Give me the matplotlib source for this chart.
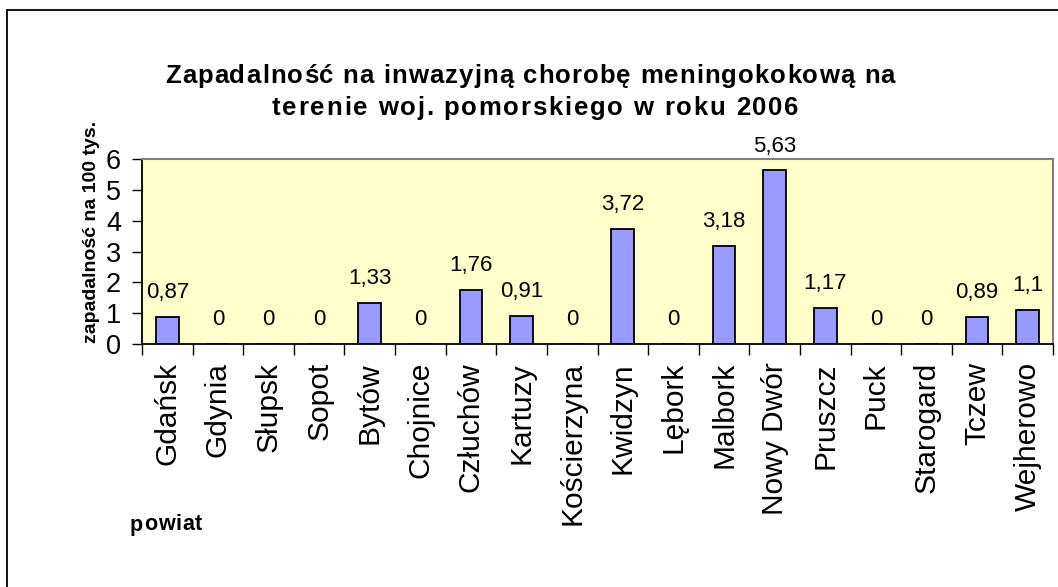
import matplotlib
matplotlib.use("Agg")
import matplotlib.pyplot as plt
import matplotlib.patches as patches
import numpy as np

plt.rcParams["font.family"] = ["Liberation Sans", "DejaVu Sans"]

powiaty = ["Gdańsk", "Gdynia", "Słupsk", "Sopot", "Bytów", "Chojnice", "Człuchów",
           "Kartuzy", "Kościerzyna", "Kwidzyn", "Lębork", "Malbork", "Nowy Dwór",
           "Pruszcz", "Puck", "Starogard", "Tczew", "Wejherowo"]
zapadalnosc = [0.87, 0, 0, 0, 1.33, 0, 1.76, 0.91, 0, 3.72, 0, 3.18, 5.63,
               1.17, 0, 0, 0.89, 1.1]
yticks = [0, 1, 2, 3, 4, 5, 6]

title1 = "Zapadalność na inwazyjną chorobę meningokokową na"
title2 = "terenie woj. pomorskiego w roku 2006"

W, H = 1058, 587
fig = plt.figure(figsize=(W / 100, H / 100), dpi=100)
renderer = fig.canvas.get_renderer()


def text_w(s, **kw):
    t = fig.text(0, 0, s, **kw)
    w = t.get_window_extent(renderer).width
    t.remove()
    return w


# excel-like letter spaced text, laid out char by char in pixels
def spaced_text(s, xc, yc, width, **kw):
    base = text_w("||", **kw)
    ws = [text_w("|" + c + "|", **kw) - base for c in s]
    gap = (width - sum(ws)) / (len(s) - 1)
    x = xc - width / 2
    for c, w in zip(s, ws):
        fig.text(x / W, 1 - yc / H, c, ha="left", va="center", **kw)
        x += w + gap


ax = fig.add_axes([142 / W, 1 - 344 / H, (1053 - 142) / W, (344 - 159) / H])
ax.set_facecolor("#ffffcc")

x = np.arange(len(powiaty))
ax.bar(x, zapadalnosc, width=0.45, color="#9999ff", edgecolor="black", linewidth=1.3)

for xi, v in zip(x, zapadalnosc):
    lbl = ("%g" % v).replace(".", ",")
    ax.annotate(lbl, (xi, v), xytext=(0, 10), textcoords="offset points",
                ha="center", va="bottom", fontsize=16)

ax.set_xlim(-0.5, len(powiaty) - 0.5)
ax.set_ylim(0, 6)
ax.set_yticks(yticks)
ax.set_yticklabels([str(t) for t in yticks], fontsize=19.5)
ax.tick_params(axis="y", length=7, width=1, pad=8)

ax.set_xticks(x)
ax.set_xticklabels(powiaty, rotation=90, fontsize=21.5)
ax.set_xticks(np.arange(len(powiaty) + 1) - 0.5, minor=True)
ax.tick_params(axis="x", which="major", length=0, pad=13)
ax.tick_params(axis="x", which="minor", length=8, width=1)

for s in ["top", "right"]:
    ax.spines[s].set_color("#808080")
    ax.spines[s].set_linewidth(1.5)
for s in ["left", "bottom"]:
    ax.spines[s].set_color("black")
    ax.spines[s].set_linewidth(1.3)

spaced_text(title1, 530, 76, 730, fontsize=18.5, fontweight="bold")
spaced_text(title2, 535, 108, 526, fontsize=18.5, fontweight="bold")
fig.text(92 / W, 1 - 232 / H, "zapadalność na 100 tys.", rotation=90,
         ha="center", va="center", fontsize=14, fontweight="bold")
spaced_text("powiat", 166, 525, 72, fontsize=15.5, fontweight="bold")

frame = patches.Rectangle((7 / W, -0.1), 1.2, 1.1 - 10 / H, transform=fig.transFigure,
                          fill=False, edgecolor="black", linewidth=1.3, clip_on=False)
fig.patches.append(frame)

fig.savefig("out.png", dpi=100)
